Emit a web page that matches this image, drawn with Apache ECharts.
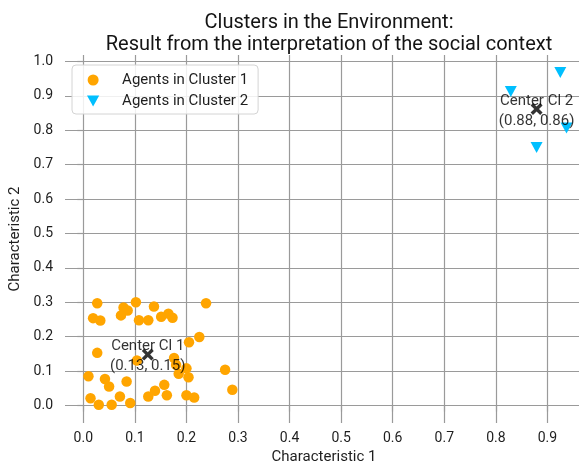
<!DOCTYPE html>
<html>
<head>
<meta charset="utf-8">
<script src="https://cdn.jsdelivr.net/npm/echarts@6/dist/echarts.min.js"></script>
<style>
html,body{margin:0;padding:0;background:#fff;}
#chart{width:579px;height:461px;}
</style>
</head>
<body>
<div id="chart"></div>
<script>
// ---- data ----
const cluster1X = [0.027,0.078,0.086,0.102,0.137,0.019,0.033,0.073,0.108,0.126,0.151,0.165,0.173,0.238,0.225,0.205,0.027,0.104,0.176,0.180,0.200,0.185,0.204,0.275,0.010,0.042,0.050,0.084,0.157,0.139,0.126,0.071,0.162,0.014,0.030,0.055,0.091,0.200,0.215,0.289];
const cluster1Y = [0.297,0.285,0.276,0.300,0.288,0.254,0.247,0.262,0.248,0.248,0.258,0.267,0.255,0.297,0.199,0.184,0.153,0.131,0.138,0.118,0.108,0.092,0.082,0.104,0.085,0.077,0.055,0.070,0.060,0.043,0.026,0.026,0.030,0.021,0.002,0.002,0.007,0.030,0.023,0.046];
const cluster2X = [0.925,0.829,0.937,0.879];
const cluster2Y = [0.968,0.913,0.807,0.750];
const centerX = [0.125,0.879];
const centerY = [0.148,0.862];
const centerLabels = ['Center Cl 1\n(0.13, 0.15)','Center Cl 2\n(0.88, 0.86)'];
const seriesNames = ['Agents in Cluster 1','Agents in Cluster 2'];
const titleLines = ['Clusters in the Environment:','Result from the interpretation of the social context'];
const xName = 'Characteristic 1';
const yName = 'Characteristic 2';

const FONT = 'Roboto';
const GRID = '#9a9a9a';
const TXT = '#1e1e1e';
const tri = 'path://M0,0 L10,0 L5,9 Z';
const cross = 'path://M0,2 L2,0 L5,3 L8,0 L10,2 L7,5 L10,8 L8,10 L5,7 L2,10 L0,8 L3,5 Z';

function zip(xs, ys){ return xs.map((x,i)=>[x, ys[i]]); }
function tickFmt(v){ return Math.abs(v*10 - Math.round(v*10)) < 1e-6 ? (Math.round(v*10)/10).toFixed(1) : ''; }

const axisCommon = {
  type: 'value',
  splitNumber: 10,
  minInterval: 0.1,
  maxInterval: 0.1,
  axisLine: {show: false},
  axisTick: {show: true, length: 6, lineStyle: {color: GRID, width: 1.2}},
  splitLine: {show: true, showMinLine: false, showMaxLine: false, lineStyle: {color: GRID, width: 1.2}},
  axisLabel: {showMinLabel: false, showMaxLabel: false, formatter: tickFmt, color: TXT, fontFamily: FONT, fontSize: 14},
  nameLocation: 'middle',
  nameTextStyle: {color: TXT, fontFamily: FONT, fontSize: 15}
};

const chart = echarts.init(document.getElementById('chart'), null, {renderer: 'canvas'});
chart.setOption({
  backgroundColor: '#ffffff',
  animation: false,
  title: {
    text: titleLines.join('\n'),
    left: 324,
    top: 7,
    textAlign: 'center',
    textStyle: {fontFamily: FONT, fontSize: 20, fontWeight: 'normal', color: '#141414', lineHeight: 22}
  },
  legend: {
    left: 72,
    top: 65,
    orient: 'vertical',
    padding: [7, 10, 5, 15],
    itemWidth: 48,
    itemHeight: 11,
    itemGap: 5,
    backgroundColor: 'rgba(255,255,255,0.85)',
    borderColor: '#d4d4d4',
    borderWidth: 1,
    borderRadius: 4,
    textStyle: {fontFamily: FONT, fontSize: 15, color: TXT, lineHeight: 16},
    data: [{name: seriesNames[0], icon: 'circle'}, {name: seriesNames[1], icon: tri}]
  },
  grid: {left: 65, right: -4, top: 55, bottom: 38, containLabel: false, outerBoundsMode: 'none'},
  xAxis: Object.assign({}, axisCommon, {
    min: -0.0355, max: 0.969,
    name: xName, nameGap: 25,
    axisLabel: Object.assign({}, axisCommon.axisLabel, {margin: 8})
  }),
  yAxis: Object.assign({}, axisCommon, {
    min: -0.0509, max: 1.019,
    name: yName, nameGap: 33,
    axisLabel: Object.assign({}, axisCommon.axisLabel, {margin: 12})
  }),
  series: [
    {
      name: seriesNames[0], type: 'scatter', symbol: 'circle', symbolSize: 10.5,
      itemStyle: {color: '#ffa500', opacity: 1},
      data: zip(cluster1X, cluster1Y), z: 2
    },
    {
      name: seriesNames[1], type: 'scatter', symbol: tri, symbolSize: [12, 11],
      itemStyle: {color: '#00bfff', opacity: 1},
      data: zip(cluster2X, cluster2Y), z: 2
    },
    {
      name: 'centers', type: 'scatter', symbol: cross, symbolSize: 12,
      itemStyle: {color: '#000000'},
      z: 5,
      label: {
        show: true, position: 'inside', offset: [0, 2],
        formatter: p => centerLabels[p.dataIndex],
        fontFamily: FONT, fontSize: 15, lineHeight: 20, color: '#000'
      },
      data: zip(centerX, centerY)
    }
  ]
});
</script>
</body>
</html>
